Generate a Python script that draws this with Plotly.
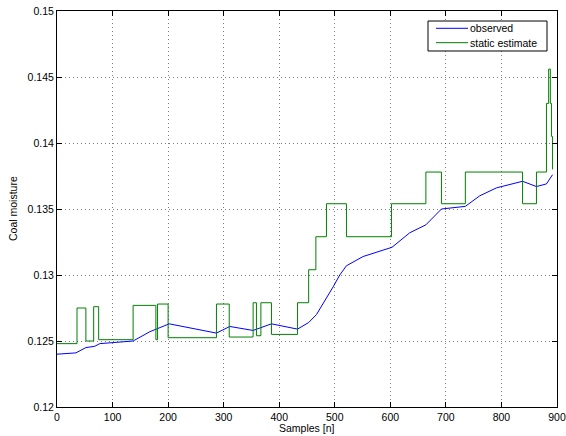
import plotly.graph_objects as go

# observed (blue)
obs_x = [0, 34, 52, 68, 77, 137, 167, 178, 202, 287, 311, 353, 359, 368, 386, 433,
         453, 467, 485, 497, 509, 521, 551, 581, 603, 635, 664, 692, 735, 761, 791,
         838, 863, 881, 892]
obs_y = [0.1240, 0.1241, 0.1245, 0.1246, 0.1248, 0.1250, 0.1257, 0.1259, 0.1263, 0.1256,
         0.1261, 0.1258, 0.1259, 0.1260, 0.1263, 0.1259, 0.1264, 0.1270, 0.1282, 0.1291,
         0.1300, 0.1307, 0.1314, 0.1318, 0.1321, 0.1332, 0.1338, 0.1350, 0.1352, 0.1360,
         0.1366, 0.1371, 0.1367, 0.1369, 0.1376]

# static estimate (green, step)
est_x = [0, 36, 52, 66, 75, 137, 178, 181, 200, 287, 310, 353, 359, 367, 386, 433,
         453, 466, 485, 521, 602, 664, 692, 735, 838, 863, 881, 885, 888, 890, 892]
est_y = [0.1248, 0.1275, 0.1250, 0.1276, 0.1251, 0.1277, 0.1251, 0.1278, 0.12525, 0.1278,
         0.1253, 0.1279, 0.1254, 0.1279, 0.1255, 0.1279, 0.1304, 0.1329, 0.1354, 0.1329,
         0.1354, 0.1378, 0.1354, 0.1378, 0.1354, 0.1378, 0.1430, 0.1456, 0.1430, 0.1405,
         0.1380]

x_ticks = [0, 100, 200, 300, 400, 500, 600, 700, 800, 900]
y_ticks = [0.12, 0.125, 0.13, 0.135, 0.14, 0.145, 0.15]
y_labels = ["0.12", "0.125", "0.13", "0.135", "0.14", "0.145", "0.15"]

series_names = ["observed", "static estimate"]
series_colors = ["#0000FF", "#008000"]

FONT = dict(family="Liberation Sans, Arial, Helvetica", size=10.5, color="black")

fig = go.Figure()
fig.add_trace(go.Scatter(x=obs_x, y=obs_y, mode="lines", name=series_names[0],
                         line=dict(color=series_colors[0], width=1), showlegend=False))
fig.add_trace(go.Scatter(x=est_x, y=est_y, mode="lines", name=series_names[1],
                         line=dict(color=series_colors[1], width=1, shape="hv"), showlegend=False))

axis_common = dict(
    showline=True, linecolor="black", linewidth=1, mirror="all",
    ticks="inside", ticklen=5, tickcolor="black",
    showgrid=True, gridcolor="rgba(0,0,0,0.5)", griddash="1px,3px", gridwidth=1,
    zeroline=False, tickfont=FONT, automargin=False,
)

fig.update_xaxes(range=[0, 900], tickvals=x_ticks, **axis_common)
fig.update_yaxes(range=[0.12, 0.15], tickvals=y_ticks, ticktext=y_labels, **axis_common)

# axis titles
fig.add_annotation(text="Samples [n]", xref="paper", yref="paper", x=0.5, y=-0.053,
                   xanchor="center", yanchor="middle", showarrow=False, font=FONT)
fig.add_annotation(text="Coal moisture", xref="paper", yref="paper", x=-0.088, y=0.5,
                   xanchor="center", yanchor="middle", showarrow=False, font=FONT, textangle=-90)

# legend box (MATLAB style)
fig.add_shape(type="rect", xref="paper", yref="paper", x0=0.742, x1=0.98, y0=0.899, y1=0.9747,
              line=dict(color="black", width=1), fillcolor="white", layer="above")
leg_y = [0.9563, 0.92]
for name, color, ly in zip(series_names, series_colors, leg_y):
    fig.add_shape(type="line", xref="paper", yref="paper", x0=0.758, x1=0.822, y0=ly, y1=ly,
                  line=dict(color=color, width=1), layer="above")
    fig.add_annotation(text=name, xref="paper", yref="paper", x=0.822, y=ly,
                       xanchor="left", yanchor="middle", showarrow=False, font=FONT)

fig.update_layout(
    width=566, height=436,
    margin=dict(l=57, r=9, t=11, b=29),
    paper_bgcolor="white", plot_bgcolor="white",
    showlegend=False,
)

fig.write_html("out.html", config={"displayModeBar": False},
               post_script="document.body.style.margin='0';document.body.style.padding='0';")
